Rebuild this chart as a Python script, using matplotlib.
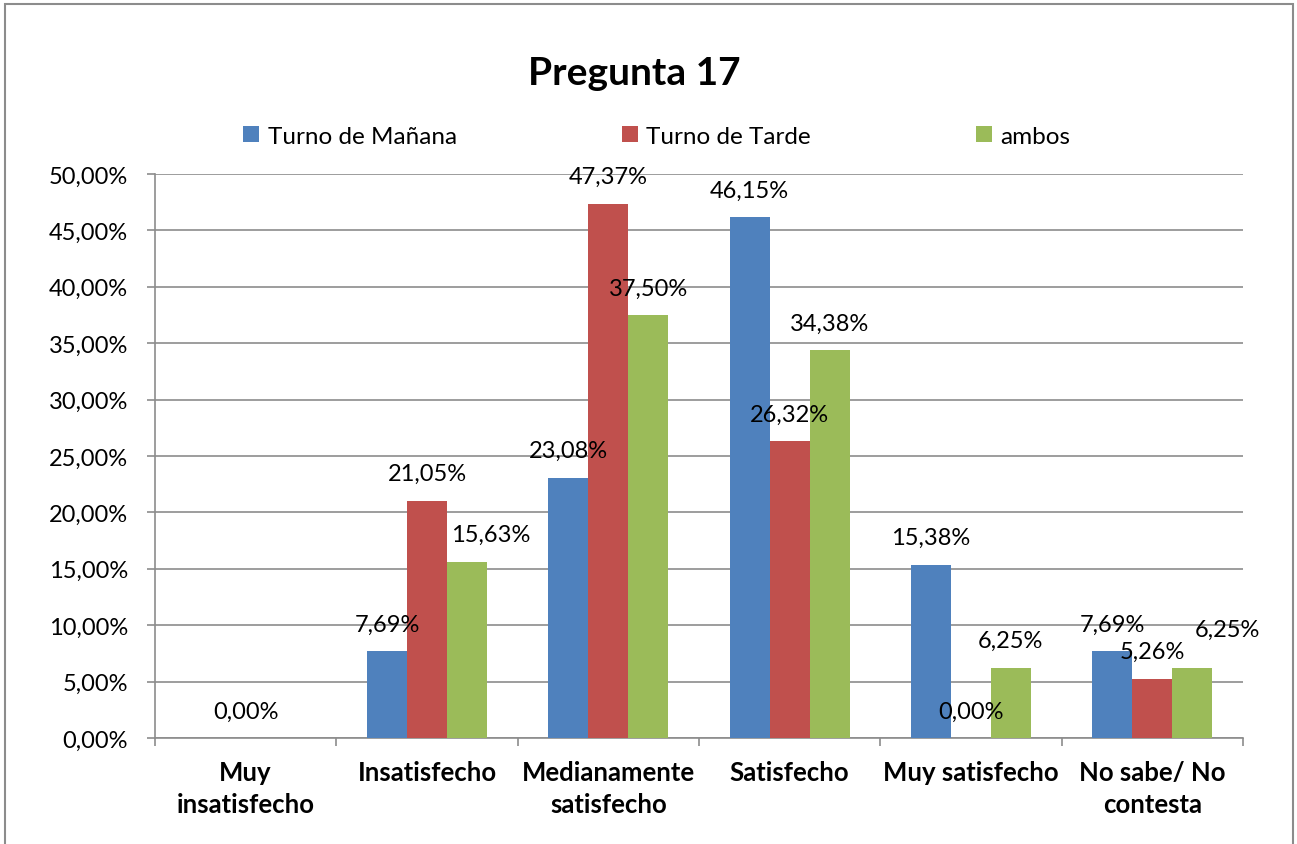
import matplotlib
matplotlib.use("Agg")
import matplotlib.pyplot as plt
from matplotlib.patches import Rectangle
import numpy as np

plt.rcParams['font.family'] = ['Lato', 'DejaVu Sans']

categories = ["Muy\ninsatisfecho", "Insatisfecho", "Medianamente\nsatisfecho",
              "Satisfecho", "Muy satisfecho", "No sabe/ No\ncontesta"]
series_names = ["Turno de Mañana", "Turno de Tarde", "ambos"]
manana = [np.nan, 7.69, 23.08, 46.15, 15.38, 7.69]
tarde = [0.00, 21.05, 47.37, 26.32, 0.00, 5.26]
ambos = [np.nan, 15.63, 37.50, 34.38, 6.25, 6.25]
colors = ["#4F81BD", "#C0504D", "#9BBB59"]

# a few labels were dragged sideways in the original (series, category): (dx, dy) in px
nudges = {(2, 1): (24, 0), (2, 5): (35, 11)}

fig = plt.figure(figsize=(12.97, 8.45), dpi=100)
ax = fig.add_axes([155 / 1297, 1 - 739 / 845, 1088 / 1297, 564 / 845])

# outer chart border
fig.patches.append(Rectangle((5 / 1297, -0.05), 1288 / 1297, 1.05 - 5 / 845,
                             transform=fig.transFigure, fill=False,
                             edgecolor="#8c8c8c", linewidth=1.5))

x = np.arange(len(categories))
w = 0.22
for j, (vals, name, c) in enumerate(zip([manana, tarde, ambos], series_names, colors)):
    pos = x + (j - 1) * w
    ax.bar(pos, np.nan_to_num(vals), width=w, color=c, label=name, zorder=3)
    for i, v in enumerate(vals):
        if np.isnan(v):
            continue
        dx, dy = nudges.get((j, i), (0, 0))
        ax.annotate(f"{v:.2f}%".replace(".", ","), (pos[i], v),
                    xytext=(dx * 0.72, (27 + dy) * 0.72), textcoords="offset points",
                    ha="center", va="center", fontsize=17, zorder=4)

ax.set_xlim(-0.5, len(categories) - 0.5)
ax.set_ylim(0, 50)
ticks = np.arange(0, 50.1, 5)
ax.set_yticks(ticks)
ax.set_yticklabels([f"{t:.2f}%".replace(".", ",") for t in ticks])
ax.set_xticks(x)
ax.set_xticklabels(categories, fontweight="bold", fontsize=18.5, linespacing=1.4)
ax.set_xticks(np.arange(-0.5, len(categories)), minor=True)
ax.tick_params(axis="x", which="major", length=0, pad=16)
ax.tick_params(axis="x", which="minor", length=6, width=1.2, color="#8c8c8c", direction="out")
ax.tick_params(axis="y", length=6, width=1.2, color="#8c8c8c", labelsize=17, pad=13.5)
ax.yaxis.grid(True, color="#8c8c8c", linewidth=1.2, zorder=0)
ax.set_axisbelow(True)
for s in ["top", "right"]:
    ax.spines[s].set_visible(False)
for s in ["left", "bottom"]:
    ax.spines[s].set_color("#8c8c8c")
    ax.spines[s].set_linewidth(1.2)

fig.text(634 / 1297, 1 - 85 / 845, "Pregunta 17", ha="center", va="baseline",
         fontsize=28, fontweight="bold")
fig.legend(loc="center", bbox_to_anchor=(657 / 1297, 1 - 137 / 845), ncol=3,
           frameon=False, fontsize=17.5, handlelength=0.65, handleheight=0.65,
           handletextpad=0.35, columnspacing=6.8)

fig.savefig("out.png", dpi=100)
